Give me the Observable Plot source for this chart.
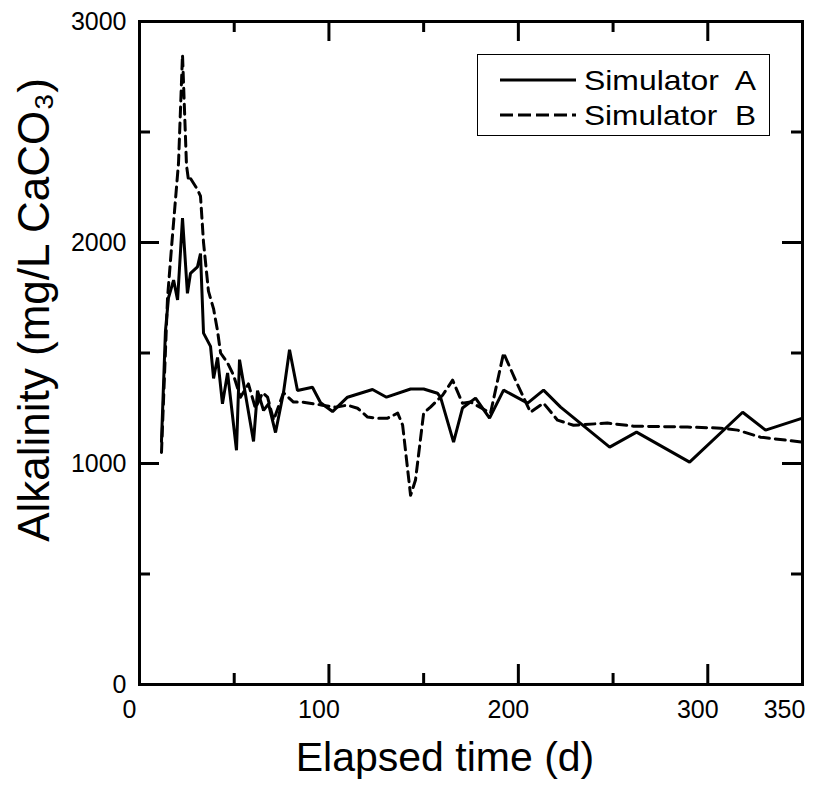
<!DOCTYPE html>
<html>
<head>
<meta charset="utf-8">
<script src="https://cdn.jsdelivr.net/npm/d3@7"></script>
<script src="https://cdn.jsdelivr.net/npm/@observablehq/plot@0.6"></script>
<style>
  html, body { margin: 0; padding: 0; background: #fff; }
  #wrap { position: relative; width: 816px; height: 790px; font-family: "Liberation Sans", Arial, sans-serif; }
  #legend { position: absolute; left: 477px; top: 54px; width: 291px; height: 80px; border: 1.5px solid #000; background: #fff; }
</style>
</head>
<body>
<div id="wrap"></div>
<script>
// ---- data ----
const daysA = [11.6, 13.7, 15.3, 18.0, 20.1, 22.7, 25.3, 26.9, 30.6, 32.2, 33.8, 37.5, 39.1, 41.2, 43.8, 46.5, 51.2, 52.8, 60.2, 62.3, 65.5, 68.1, 71.8, 76.0, 79.2, 83.4, 91.3, 95.6, 101.9, 109.8, 123.0, 130.4, 143.1, 150.0, 157.3, 158.9, 165.8, 170.5, 177.4, 184.8, 192.2, 204.9, 213.3, 222.3, 248.2, 262.4, 290.4, 318.4, 330.5, 350];
const alkA  = [1100, 1600, 1750, 1830, 1740, 2110, 1770, 1860, 1890, 1950, 1590, 1530, 1385, 1480, 1270, 1410, 1060, 1470, 1100, 1330, 1240, 1270, 1140, 1320, 1515, 1330, 1345, 1275, 1235, 1300, 1335, 1300, 1337, 1337, 1318, 1300, 1097, 1251, 1296, 1205, 1332, 1273, 1332, 1255, 1074, 1142, 1006, 1232, 1151, 1205];
const daysB = [11.6, 14.8, 17.4, 20.6, 22.7, 24.8, 25.9, 26.9, 30.6, 32.2, 33.8, 36.4, 39.1, 41.2, 42.8, 46.5, 49.6, 53.3, 57.5, 61.2, 65.0, 67.6, 70.8, 76.0, 81.3, 86.0, 96.5, 103.4, 109.8, 115.1, 120.4, 125.7, 131.0, 136.3, 138.9, 143.1, 145.7, 150.0, 153.6, 160.0, 165.3, 170.5, 174.8, 185.3, 192.2, 198.5, 206.4, 213.3, 220.7, 229.1, 247.0, 260.8, 289.3, 306.8, 315.7, 327.9, 350];
const alkB  = [1050, 1750, 2030, 2360, 2850, 2350, 2280, 2290, 2240, 2210, 2000, 1780, 1700, 1600, 1500, 1455, 1400, 1300, 1360, 1250, 1320, 1300, 1196, 1320, 1278, 1278, 1264, 1255, 1264, 1250, 1210, 1205, 1205, 1228, 1174, 856, 925, 1228, 1255, 1309, 1377, 1273, 1278, 1228, 1500, 1377, 1232, 1273, 1196, 1173, 1183, 1169, 1165, 1160, 1151, 1119, 1097];
const seriesNames = ["Simulator  A", "Simulator  B"];
const xTickLabels = [0, 100, 200, 300];
const xEndLabel = [350];
const xMinor = [50, 150, 250];
const xMajor = [100, 200, 300];
const yTickLabels = [0, 1000, 2000, 3000];
const yMinor = [500, 1500, 2500];
const yMajor = [1000, 2000];
const xTitle = "Elapsed time (d)";
const yTitle = "Alkalinity (mg/L CaCO\u2083)";

const A = daysA.map((t, i) => ({t, v: alkA[i]}));
const B = daysB.map((t, i) => ({t, v: alkB[i]}));

const W = 816, H = 790, mT = 21, mR = 14, mB = 106, mL = 139;
const fw = W - mL - mR, fh = H - mT - mB;
const FONT = '"Liberation Sans", Arial, sans-serif';
const majLen = 20, minLen = 11;

const plot = Plot.plot({
  width: W, height: H,
  marginTop: mT, marginRight: mR, marginBottom: mB, marginLeft: mL,
  style: {fontFamily: FONT, background: "#fff", color: "#000"},
  x: {domain: [0, 350]},
  y: {domain: [0, 3000]},
  marks: [
    // tick labels
    Plot.axisX(xTickLabels, {tickSize: 0, tickPadding: 16, dx: -10, fontSize: 25, label: null, tickFormat: d => String(d)}),
    Plot.axisX(xEndLabel, {tickSize: 0, tickPadding: 16, dx: -18, fontSize: 25, label: null, tickFormat: d => String(d)}),
    Plot.axisY(yTickLabels, {tickSize: 0, tickPadding: 13, fontSize: 25, label: null, tickFormat: d => String(d)}),
    // inward ticks, bottom & top
    Plot.tickX(xMajor, {x: d => d, insetTop: fh - majLen, strokeWidth: 3}),
    Plot.tickX(xMinor, {x: d => d, insetTop: fh - minLen, strokeWidth: 3}),
    Plot.tickX(xMajor, {x: d => d, insetBottom: fh - majLen, strokeWidth: 3}),
    Plot.tickX(xMinor, {x: d => d, insetBottom: fh - minLen, strokeWidth: 3}),
    // inward ticks, left & right
    Plot.tickY(yMajor, {y: d => d, insetRight: fw - majLen, strokeWidth: 3}),
    Plot.tickY(yMinor, {y: d => d, insetRight: fw - minLen, strokeWidth: 3}),
    Plot.tickY(yMajor, {y: d => d, insetLeft: fw - majLen, strokeWidth: 3}),
    Plot.tickY(yMinor, {y: d => d, insetLeft: fw - minLen, strokeWidth: 3}),
    // data
    Plot.line(A, {x: "t", y: "v", stroke: "#000", strokeWidth: 3, strokeLinejoin: "miter"}),
    Plot.line(B, {x: "t", y: "v", stroke: "#000", strokeWidth: 3, strokeDasharray: "10,6"}),
    Plot.frame({stroke: "#000", strokeWidth: 3}),
    // titles
    Plot.text([xTitle], {frameAnchor: "bottom", textAnchor: "middle", dx: -26, dy: 86, fontSize: 41, fill: "#000"}),
    Plot.text([yTitle], {frameAnchor: "left", textAnchor: "middle", rotate: -90, dx: -105, dy: -43, fontSize: 44, fill: "#000"})
  ]
});

const wrap = document.getElementById("wrap");
wrap.appendChild(plot);

// legend
const leg = document.createElement("div");
leg.id = "legend";
const ns = "http://www.w3.org/2000/svg";
const ls = document.createElementNS(ns, "svg");
ls.setAttribute("width", 291); ls.setAttribute("height", 80);
seriesNames.forEach((name, i) => {
  const y = 25 + i * 35;
  const ln = document.createElementNS(ns, "line");
  ln.setAttribute("x1", 22); ln.setAttribute("x2", 98);
  ln.setAttribute("y1", y); ln.setAttribute("y2", y);
  ln.setAttribute("stroke", "#000"); ln.setAttribute("stroke-width", 3);
  if (i === 1) ln.setAttribute("stroke-dasharray", "13,5");
  ls.appendChild(ln);
  const tx = document.createElementNS(ns, "text");
  tx.setAttribute("x", 106); tx.setAttribute("y", y);
  tx.setAttribute("dominant-baseline", "central");
  tx.setAttribute("font-size", 28);
  tx.setAttribute("font-family", FONT);
  tx.setAttribute("textLength", 172);
  tx.setAttribute("lengthAdjust", "spacingAndGlyphs");
  tx.style.whiteSpace = "pre";
  tx.textContent = name;
  ls.appendChild(tx);
});
leg.appendChild(ls);
wrap.appendChild(leg);
</script>
</body>
</html>
